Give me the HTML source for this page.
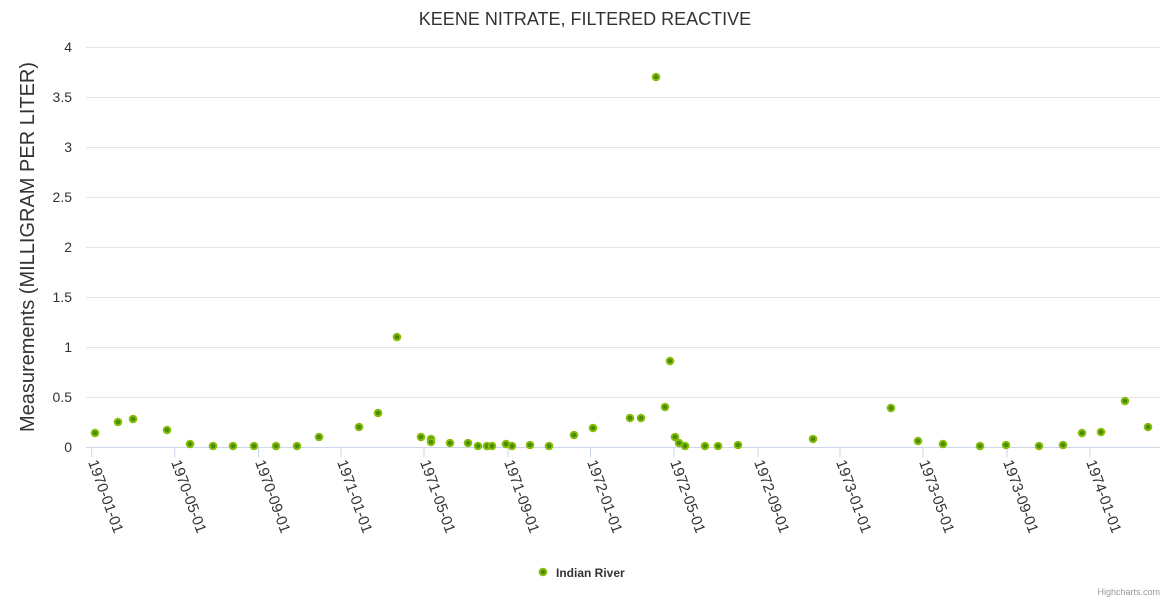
<!DOCTYPE html><html><head><meta charset="utf-8"><style>body{margin:0;background:#fff}svg{display:block;font-family:"Liberation Sans",sans-serif}</style></head><body>
<svg width="1170" height="600" xmlns="http://www.w3.org/2000/svg">
<text x="585" y="25" text-anchor="middle" font-size="18" fill="#333">KEENE NITRATE, FILTERED REACTIVE</text>
<g stroke="#e6e6e6" stroke-width="1">
<line x1="86" x2="1160" y1="47.5" y2="47.5"/><line x1="86" x2="1160" y1="97.5" y2="97.5"/><line x1="86" x2="1160" y1="147.5" y2="147.5"/><line x1="86" x2="1160" y1="197.5" y2="197.5"/><line x1="86" x2="1160" y1="247.5" y2="247.5"/><line x1="86" x2="1160" y1="297.5" y2="297.5"/><line x1="86" x2="1160" y1="347.5" y2="347.5"/><line x1="86" x2="1160" y1="397.5" y2="397.5"/></g>
<line x1="86" x2="1160" y1="447.5" y2="447.5" stroke="#ccd6eb"/>
<g font-size="14" fill="#333" text-anchor="end">
<text x="72" y="52">4</text><text x="72" y="102">3.5</text><text x="72" y="152">3</text><text x="72" y="202">2.5</text><text x="72" y="252">2</text><text x="72" y="302">1.5</text><text x="72" y="352">1</text><text x="72" y="402">0.5</text><text x="72" y="452">0</text></g>
<text transform="translate(34,247) rotate(-90)" text-anchor="middle" font-size="20" fill="#333">Measurements (MILLIGRAM PER LITER)</text>
<g stroke="#ccd6eb">
<line x1="91.7" x2="91.7" y1="447" y2="457"/><line x1="174.8" x2="174.8" y1="447" y2="457"/><line x1="258.5" x2="258.5" y1="447" y2="457"/><line x1="341" x2="341" y1="447" y2="457"/><line x1="424" x2="424" y1="447" y2="457"/><line x1="508" x2="508" y1="447" y2="457"/><line x1="590.5" x2="590.5" y1="447" y2="457"/><line x1="674" x2="674" y1="447" y2="457"/><line x1="758" x2="758" y1="447" y2="457"/><line x1="840" x2="840" y1="447" y2="457"/><line x1="923" x2="923" y1="447" y2="457"/><line x1="1007" x2="1007" y1="447" y2="457"/><line x1="1090" x2="1090" y1="447" y2="457"/></g>
<g font-size="15" fill="#333">
<text transform="translate(88,462) rotate(70)">1970-01-01</text>
<text transform="translate(171,462) rotate(70)">1970-05-01</text>
<text transform="translate(255,462) rotate(70)">1970-09-01</text>
<text transform="translate(337,462) rotate(70)">1971-01-01</text>
<text transform="translate(420,462) rotate(70)">1971-05-01</text>
<text transform="translate(504,462) rotate(70)">1971-09-01</text>
<text transform="translate(587,462) rotate(70)">1972-01-01</text>
<text transform="translate(670,462) rotate(70)">1972-05-01</text>
<text transform="translate(754,462) rotate(70)">1972-09-01</text>
<text transform="translate(836,462) rotate(70)">1973-01-01</text>
<text transform="translate(919,462) rotate(70)">1973-05-01</text>
<text transform="translate(1003,462) rotate(70)">1973-09-01</text>
<text transform="translate(1086,462) rotate(70)">1974-01-01</text></g>
<g fill="#4a8c00" stroke="#86bc0a" stroke-width="2">
<circle cx="95" cy="433" r="3.3"/><circle cx="118" cy="422" r="3.3"/><circle cx="133" cy="419" r="3.3"/><circle cx="167" cy="430" r="3.3"/><circle cx="190" cy="444" r="3.3"/><circle cx="213" cy="446" r="3.3"/><circle cx="233" cy="446" r="3.3"/><circle cx="254" cy="446" r="3.3"/><circle cx="276" cy="446" r="3.3"/><circle cx="297" cy="446" r="3.3"/><circle cx="319" cy="437" r="3.3"/><circle cx="359" cy="427" r="3.3"/><circle cx="378" cy="413" r="3.3"/><circle cx="397" cy="337" r="3.3"/><circle cx="421" cy="437" r="3.3"/><circle cx="431" cy="439" r="3.3"/><circle cx="431" cy="442" r="3.3"/><circle cx="450" cy="443" r="3.3"/><circle cx="468" cy="443" r="3.3"/><circle cx="478" cy="446" r="3.3"/><circle cx="487" cy="446" r="3.3"/><circle cx="492" cy="446" r="3.3"/><circle cx="506" cy="444" r="3.3"/><circle cx="512" cy="446" r="3.3"/><circle cx="530" cy="445" r="3.3"/><circle cx="549" cy="446" r="3.3"/><circle cx="574" cy="435" r="3.3"/><circle cx="593" cy="428" r="3.3"/><circle cx="630" cy="418" r="3.3"/><circle cx="641" cy="418" r="3.3"/><circle cx="656" cy="77" r="3.3"/><circle cx="665" cy="407" r="3.3"/><circle cx="670" cy="361" r="3.3"/><circle cx="675" cy="437" r="3.3"/><circle cx="679" cy="443" r="3.3"/><circle cx="685" cy="446" r="3.3"/><circle cx="705" cy="446" r="3.3"/><circle cx="718" cy="446" r="3.3"/><circle cx="738" cy="445" r="3.3"/><circle cx="813" cy="439" r="3.3"/><circle cx="891" cy="408" r="3.3"/><circle cx="918" cy="441" r="3.3"/><circle cx="943" cy="444" r="3.3"/><circle cx="980" cy="446" r="3.3"/><circle cx="1006" cy="445" r="3.3"/><circle cx="1039" cy="446" r="3.3"/><circle cx="1063" cy="445" r="3.3"/><circle cx="1082" cy="433" r="3.3"/><circle cx="1101" cy="432" r="3.3"/><circle cx="1125" cy="401" r="3.3"/><circle cx="1148" cy="427" r="3.3"/>
<circle cx="543" cy="572" r="3.3"/></g>
<text x="556" y="577" font-size="12" font-weight="bold" fill="#333">Indian River</text>
<text x="1160" y="595" font-size="9" fill="#999" text-anchor="end">Highcharts.com</text>
</svg></body></html>
